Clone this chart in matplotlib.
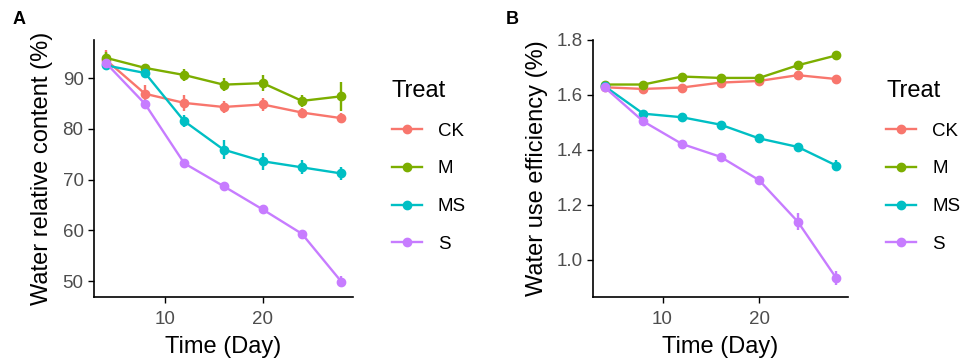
import numpy as np
import matplotlib.pyplot as plt
from matplotlib.lines import Line2D

plt.rcParams["font.family"] = ["Liberation Sans", "DejaVu Sans"]

# --- data ---
days = [4, 8, 12, 16, 20, 24, 28]
treats = ["CK", "M", "MS", "S"]
colors = ["#F8766D", "#7CAE00", "#00BFC4", "#C77CFF"]

# A: water relative content (%)
rwc_ck = [93.6, 86.9, 85.1, 84.3, 84.8, 83.2, 82.1]
rwc_m = [94.0, 92.0, 90.6, 88.7, 89.0, 85.5, 86.4]
rwc_ms = [92.5, 91.0, 81.5, 75.9, 73.6, 72.4, 71.2]
rwc_s = [93.0, 84.9, 73.2, 68.7, 64.1, 59.3, 49.9]
rwc_ck_se = [2.0, 1.8, 1.5, 1.2, 1.2, 0.9, 1.0]
rwc_m_se = [1.2, 0.7, 1.2, 1.3, 1.6, 1.2, 2.8]
rwc_ms_se = [0.8, 0.6, 1.2, 1.9, 1.7, 1.4, 1.3]
rwc_s_se = [0.7, 0.6, 0.8, 0.6, 0.7, 0.6, 1.0]

# B: water use efficiency (%)
wue_ck = [1.628, 1.622, 1.627, 1.645, 1.651, 1.672, 1.658]
wue_m = [1.638, 1.638, 1.667, 1.662, 1.662, 1.708, 1.744]
wue_ms = [1.632, 1.532, 1.519, 1.492, 1.442, 1.411, 1.343]
wue_s = [1.628, 1.504, 1.422, 1.375, 1.290, 1.139, 0.933]
wue_ck_se = [0.006, 0.008, 0.008, 0.010, 0.015, 0.008, 0.006]
wue_m_se = [0.006, 0.006, 0.008, 0.012, 0.015, 0.012, 0.010]
wue_ms_se = [0.006, 0.010, 0.015, 0.010, 0.015, 0.015, 0.020]
wue_s_se = [0.006, 0.012, 0.010, 0.010, 0.015, 0.030, 0.025]

rwc = [rwc_ck, rwc_m, rwc_ms, rwc_s]
rwc_se = [rwc_ck_se, rwc_m_se, rwc_ms_se, rwc_s_se]
wue = [wue_ck, wue_m, wue_ms, wue_s]
wue_se = [wue_ck_se, wue_m_se, wue_ms_se, wue_s_se]

fig = plt.figure(figsize=(9.65, 3.62), dpi=100)
ax_a = fig.add_axes([94 / 965, 65 / 362, 259 / 965, 257 / 362])
ax_b = fig.add_axes([593 / 965, 65 / 362, 255 / 965, 257 / 362])


def draw_panel(ax, values, errors, ylabel, ylim, yticks, ylab_x):
    for vals, errs, col in zip(values, errors, colors):
        ax.errorbar(days, vals, yerr=errs, fmt="-o", color=col, lw=1.7,
                    elinewidth=1.7, capsize=0, markersize=6)
    ax.set_xlim(2.8, 29.2)
    ax.set_ylim(*ylim)
    ax.set_xticks([10, 20])
    ax.set_yticks(yticks)
    for s in ["top", "right"]:
        ax.spines[s].set_visible(False)
    for s in ["left", "bottom"]:
        ax.spines[s].set_linewidth(1.2)
    ax.tick_params(labelsize=13.5, labelcolor="#4D4D4D", length=4, width=1.0)
    ax.tick_params(axis="x", pad=6)
    ax.set_xlabel("Time (Day)", fontsize=17)
    ax.set_ylabel(ylabel, fontsize=17)
    ax.xaxis.set_label_coords(0.5, -0.15)
    ax.yaxis.set_label_coords(ylab_x, 0.5)

    handles = [Line2D([0], [0], color=c, lw=1.7, marker="o", markersize=6)
               for c in colors]
    leg = ax.legend(handles, treats, title="Treat", loc="upper left",
                    bbox_to_anchor=(1.15, 0.845), frameon=False, fontsize=13.5,
                    title_fontsize=17, handlelength=1.6, labelspacing=1.1,
                    borderpad=0, borderaxespad=0, handletextpad=0.85)
    leg._legend_box.align = "left"


draw_panel(ax_a, rwc, rwc_se, "Water relative content (%)", (46.85, 97.5),
           [50, 60, 70, 80, 90], -0.158)
draw_panel(ax_b, wue, wue_se, "Water use efficiency (%)", (0.865, 1.80),
           [1.0, 1.2, 1.4, 1.6, 1.8], -0.176)
ax_b.set_yticklabels(["1.0", "1.2", "1.4", "1.6", "1.8"])

fig.text(13 / 965, 1 - 19 / 362, "A", fontsize=13, fontweight="bold", va="center")
fig.text(506 / 965, 1 - 19 / 362, "B", fontsize=13, fontweight="bold", va="center")

fig.savefig("out.png", dpi=100)
